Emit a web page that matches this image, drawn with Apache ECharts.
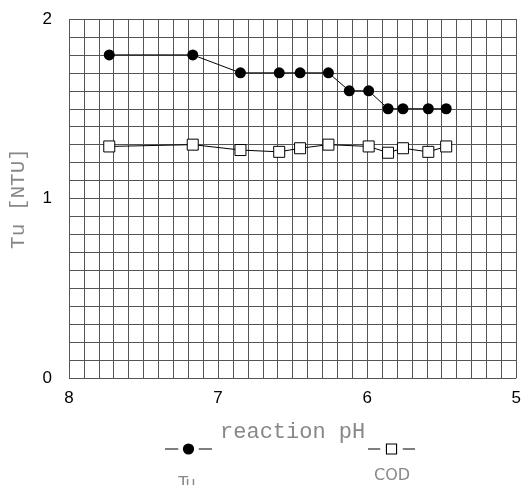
<!DOCTYPE html>
<html>
<head>
<meta charset="utf-8">
<script src="https://cdn.jsdelivr.net/npm/echarts@6/dist/echarts.min.js"></script>
<style>
  html, body { margin: 0; padding: 0; background: #fff; }
  #chart { width: 524px; height: 485px; }
</style>
</head>
<body>
<div id="chart"></div>
<script>
// reaction pH values (x) and measured series
var phTu = [7.73, 7.17, 6.85, 6.59, 6.45, 6.26, 6.12, 5.99, 5.86, 5.76, 5.59, 5.47];
var tuValues = [1.8, 1.8, 1.7, 1.7, 1.7, 1.7, 1.6, 1.6, 1.5, 1.5, 1.5, 1.5];
var phCod = [7.73, 7.17, 6.85, 6.59, 6.45, 6.26, 5.99, 5.86, 5.76, 5.59, 5.47];
var codValues = [1.29, 1.30, 1.27, 1.26, 1.28, 1.30, 1.29, 1.255, 1.28, 1.26, 1.29];
var seriesNames = ['Tu', 'COD'];

function pairs(xs, ys) {
  var out = [];
  for (var i = 0; i < xs.length; i++) out.push([xs[i], ys[i]]);
  return out;
}

// legend icons drawn as "— mark —"
var iconDot = 'path://M0,5.5h13v1h-13z M17.5,6a5.5,5.5 0 1,0 11,0a5.5,5.5 0 1,0 -11,0z M33,5.5h13v1h-13z';
var iconBox = 'path://M0,5.5h12v1h-12z M17.5,0.5h11v11h-11z M18.6,1.6v8.8h8.8v-8.8z M34,5.5h12v1h-12z';

var chart = echarts.init(document.getElementById('chart'));
var gridLine = { show: true, lineStyle: { color: '#555', width: 1, type: 'solid' } };

var option = {
  animation: false,
  backgroundColor: '#fff',
  grid: { left: 67, right: 5, top: 19, bottom: 107 },
  xAxis: {
    type: 'value',
    min: 5,
    max: 8,
    interval: 1,
    inverse: true,
    name: 'reaction pH',
    nameLocation: 'middle',
    nameGap: 43,
    nameTextStyle: { color: '#888', fontSize: 22, fontFamily: 'Liberation Mono' },
    axisLine: { show: false },
    axisTick: { show: false },
    axisLabel: { color: '#000', fontSize: 17, fontFamily: 'Liberation Sans', margin: 12 },
    splitLine: gridLine,
    minorTick: { show: false, splitNumber: 10 },
    minorSplitLine: gridLine
  },
  yAxis: {
    type: 'value',
    min: 0,
    max: 2,
    interval: 1,
    name: 'Tu [NTU]',
    nameLocation: 'middle',
    nameGap: 40,
    nameTextStyle: { color: '#888', fontSize: 21, fontFamily: 'Liberation Mono' },
    axisLine: { show: false },
    axisTick: { show: false },
    axisLabel: { color: '#000', fontSize: 17, fontFamily: 'Liberation Sans', margin: 17 },
    splitLine: gridLine,
    minorTick: { show: false, splitNumber: 10 },
    minorSplitLine: gridLine
  },
  legend: [{
    data: [{ name: seriesNames[0], icon: iconDot, itemStyle: { color: '#000', borderWidth: 0 } }],
    left: 165, top: 443, padding: 0,
    itemWidth: 47, itemHeight: 12,
    formatter: function () { return ''; }
  }, {
    data: [{ name: seriesNames[1], icon: iconBox, itemStyle: { color: '#000', borderWidth: 0 } }],
    left: 368, top: 443, padding: 0,
    itemWidth: 47, itemHeight: 12,
    formatter: function () { return ''; }
  }],
  graphic: [
    { type: 'text', x: 187, y: 484, style: { text: 'Tu', fill: '#888', font: '16px DejaVu Sans', align: 'center', verticalAlign: 'middle', textAlign: 'center', textVerticalAlign: 'middle' } },
    { type: 'text', x: 392, y: 476, style: { text: 'COD', fill: '#888', font: '16px DejaVu Sans', align: 'center', verticalAlign: 'middle', textAlign: 'center', textVerticalAlign: 'middle' } }
  ],
  series: [{
    name: seriesNames[0],
    type: 'line',
    data: pairs(phTu, tuValues),
    symbol: 'circle',
    symbolSize: 11,
    itemStyle: { color: '#000' },
    lineStyle: { color: '#000', width: 1 }
  }, {
    name: seriesNames[1],
    type: 'line',
    data: pairs(phCod, codValues),
    symbol: 'rect',
    symbolSize: 11,
    itemStyle: { color: '#fff', borderColor: '#000', borderWidth: 1 },
    lineStyle: { color: '#000', width: 1 }
  }]
};
chart.setOption(option);
</script>
</body>
</html>
